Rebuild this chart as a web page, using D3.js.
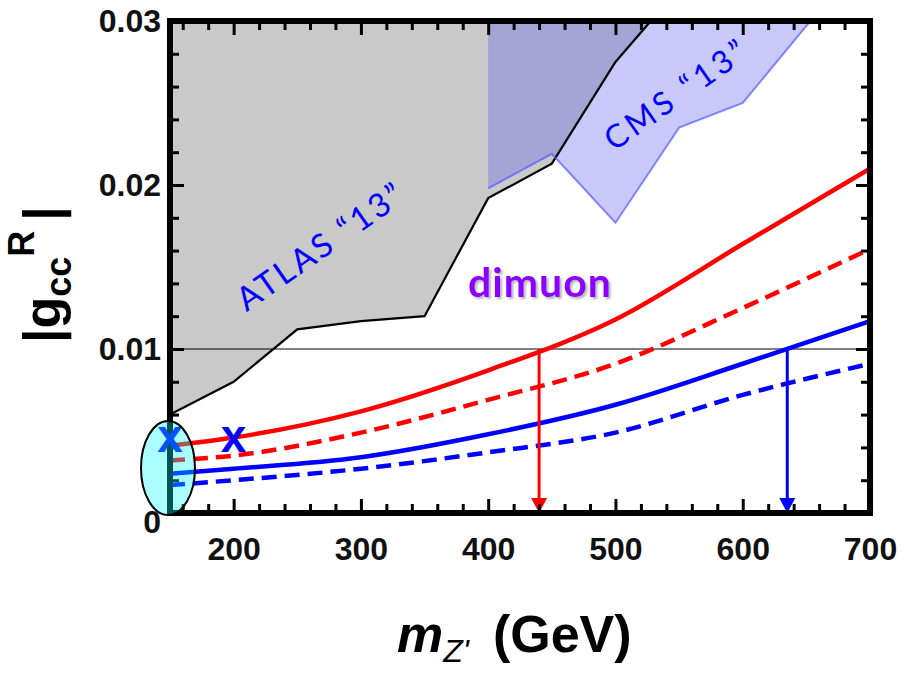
<!DOCTYPE html>
<html>
<head>
<meta charset="utf-8">
<script src="https://cdn.jsdelivr.net/npm/d3@7"></script>
<style>
  body { margin: 0; background: #fff; }
  svg { display: block; }
</style>
</head>
<body>
<svg id="chart" width="912" height="673"></svg>
<script>
'use strict';

// masses (GeV) where the limit curves were sampled
var mass = [150, 200, 300, 400, 500, 600, 700];
var redSolid   = [0.0041, 0.0046, 0.0062, 0.0087, 0.0118, 0.0164, 0.0210];
var redDashed  = [0.0032, 0.0035, 0.0049, 0.0069, 0.0091, 0.0125, 0.0161];
var blueSolid  = [0.0024, 0.0027, 0.0034, 0.0048, 0.0066, 0.0091, 0.0117];
var blueDashed = [0.0017, 0.0020, 0.0027, 0.0037, 0.0049, 0.0072, 0.0091];

// excluded regions (dimuon searches)
var atlasMass  = [150, 200, 250, 300, 350, 400, 450, 500, 550];
var atlasLimit = [0.0060, 0.0080, 0.0112, 0.0117, 0.0120, 0.0192, 0.0213, 0.0275, 0.0320];
var cmsMass  = [400, 450, 500, 550, 600, 650, 700];
var cmsLimit = [0.0198, 0.0219, 0.0177, 0.0235, 0.0250, 0.0297, 0.0344];

var refCoupling = 0.01;
var arrowMass = [440, 635];
var arrowColor = ["#ff0000", "#0000ff"];
var crossMass = [150, 200];
var crossG = [0.0047, 0.0047];
var ellipseCenter = [150, 0.00274];

var xTicks = [200, 300, 400, 500, 600, 700];
var yTicks = [0, 0.01, 0.02, 0.03];
var yTickLabels = ["0", "0.01", "0.02", "0.03"];

var svg = d3.select("#chart");
var pLeft = 170, pRight = 870, pTop = 21, pBottom = 513;

var x = d3.scaleLinear().domain([150, 700]).range([pLeft, pRight]);
var y = d3.scaleLinear().domain([0, 0.03]).range([pBottom, pTop]);

var defs = svg.append("defs");
defs.append("clipPath").attr("id", "plotClip")
	.append("rect")
	.attr("x", pLeft).attr("y", pTop)
	.attr("width", pRight - pLeft).attr("height", pBottom - pTop);

var shadow = defs.append("filter").attr("id", "shadow")
	.attr("x", "-10%").attr("y", "-10%").attr("width", "130%").attr("height", "140%");
shadow.append("feDropShadow")
	.attr("dx", 2).attr("dy", 2).attr("stdDeviation", 1.2)
	.attr("flood-color", "#777").attr("flood-opacity", 0.55);

var plot = svg.append("g").attr("clip-path", "url(#plotClip)");

function zip(xs, ys) {
	return xs.map(function(m, i) { return [m, ys[i]]; });
}

var areaTop = d3.area()
	.x(function(d) { return x(d[0]); })
	.y0(y(0.03) - 10)
	.y1(function(d) { return y(d[1]); });

var line = d3.line()
	.x(function(d) { return x(d[0]); })
	.y(function(d) { return y(d[1]); });

var curve = d3.line()
	.x(function(d) { return x(d[0]); })
	.y(function(d) { return y(d[1]); })
	.curve(d3.curveMonotoneX);

// ATLAS region
plot.append("path")
	.attr("d", areaTop(zip(atlasMass, atlasLimit)))
	.attr("fill", "#c9c9c9");

// CMS region
plot.append("path")
	.attr("d", areaTop(zip(cmsMass, cmsLimit)))
	.attr("fill", "rgb(88,88,236)")
	.attr("fill-opacity", 0.33);

plot.append("path")
	.attr("d", line(zip(atlasMass, atlasLimit)))
	.attr("fill", "none")
	.attr("stroke", "#000")
	.attr("stroke-width", 2.2);

plot.append("path")
	.attr("d", line(zip(cmsMass, cmsLimit)))
	.attr("fill", "none")
	.attr("stroke", "rgb(90,90,255)")
	.attr("stroke-opacity", 0.7)
	.attr("stroke-width", 2);

// reference coupling
plot.append("line")
	.attr("x1", x(150)).attr("x2", x(700))
	.attr("y1", y(refCoupling)).attr("y2", y(refCoupling))
	.attr("stroke", "#000").attr("stroke-width", 1.2);

var curves = [
	{ v: redSolid, c: "#ff0000", dash: null },
	{ v: redDashed, c: "#ff0000", dash: "15,8" },
	{ v: blueSolid, c: "#0000ff", dash: null },
	{ v: blueDashed, c: "#0000ff", dash: "15,8" }
];

plot.selectAll(".limit").data(curves).enter()
	.append("path")
	.attr("class", "limit")
	.attr("d", function(d) { return curve(zip(mass, d.v)); })
	.attr("fill", "none")
	.attr("stroke", function(d) { return d.c; })
	.attr("stroke-width", 4.5)
	.attr("stroke-dasharray", function(d) { return d.dash; });

// arrows down from the crossing points
arrowMass.forEach(function(m, i) {
	var ax = x(m);
	plot.append("line")
		.attr("x1", ax).attr("x2", ax)
		.attr("y1", y(refCoupling)).attr("y2", y(0) - 12)
		.attr("stroke", arrowColor[i]).attr("stroke-width", 3);
	plot.append("path")
		.attr("d", "M" + (ax - 8) + "," + (y(0) - 15) + "L" + (ax + 8) + "," + (y(0) - 15) + "L" + ax + "," + y(0) + "Z")
		.attr("fill", arrowColor[i]);
});

// labels inside the plot
var comic = "'Comic Sans MS', Lato, 'Noto Sans', sans-serif";

svg.append("text")
	.attr("transform", "translate(320,245) rotate(-35)")
	.attr("text-anchor", "middle")
	.attr("dominant-baseline", "central")
	.attr("font-family", comic)
	.attr("font-size", 33)
	.attr("letter-spacing", 3)
	.attr("fill", "#0000ff")
	.text("ATLAS \u201C13\u201D");

svg.append("text")
	.attr("transform", "translate(676,93) rotate(-35)")
	.attr("text-anchor", "middle")
	.attr("dominant-baseline", "central")
	.attr("font-family", comic)
	.attr("font-size", 32)
	.attr("letter-spacing", 4)
	.attr("fill", "#0000ff")
	.text("CMS \u201C13\u201D");

svg.append("text")
	.attr("x", 468).attr("y", 297)
	.attr("font-family", comic)
	.attr("font-size", 41)
	.attr("font-weight", "bold")
	.attr("letter-spacing", 1)
	.attr("fill", "#8c00ff")
	.attr("filter", "url(#shadow)")
	.text("dimuon");

// frame
svg.append("rect")
	.attr("x", pLeft).attr("y", pTop)
	.attr("width", pRight - pLeft).attr("height", pBottom - pTop)
	.attr("fill", "none")
	.attr("stroke", "#000")
	.attr("stroke-width", 6);

var xMinor = d3.range(160, 701, 20).filter(function(v) { return v % 100 !== 0; });
var yMinor = d3.range(0.002, 0.0300, 0.002).filter(function(v) { return Math.abs(v * 100 - Math.round(v * 100)) > 1e-6; });

function tickAxis(axisFn, scale, values, size, transform) {
	var g = svg.append("g")
		.attr("transform", transform)
		.call(axisFn(scale).tickValues(values).tickSize(size).tickFormat(""));
	g.select(".domain").remove();
	g.selectAll(".tick line").attr("stroke", "#000").attr("stroke-width", 3);
	return g;
}

tickAxis(d3.axisBottom, x, xTicks, -14, "translate(0," + pBottom + ")");
tickAxis(d3.axisBottom, x, xMinor, -9, "translate(0," + pBottom + ")");
tickAxis(d3.axisTop, x, xTicks, -14, "translate(0," + pTop + ")");
tickAxis(d3.axisTop, x, xMinor, -9, "translate(0," + pTop + ")");
tickAxis(d3.axisLeft, y, yTicks, -14, "translate(" + pLeft + ",0)");
tickAxis(d3.axisLeft, y, yMinor, -9, "translate(" + pLeft + ",0)");
tickAxis(d3.axisRight, y, yTicks, -14, "translate(" + pRight + ",0)");
tickAxis(d3.axisRight, y, yMinor, -9, "translate(" + pRight + ",0)");

// tick labels
var labelFont = "'Liberation Sans', Arial, sans-serif";
var xLab = svg.append("g")
	.attr("transform", "translate(0," + pBottom + ")")
	.call(d3.axisBottom(x).tickValues(xTicks).tickSize(0).tickPadding(24));
xLab.select(".domain").remove();
xLab.selectAll("text")
	.attr("font-family", labelFont).attr("font-size", 32).attr("font-weight", "bold")
	.attr("fill", "#111");

var yLab = svg.append("g")
	.attr("transform", "translate(" + pLeft + ",0)")
	.call(d3.axisLeft(y).tickValues(yTicks).tickSize(0).tickPadding(9)
		.tickFormat(function(d, i) { return yTickLabels[i]; }));
yLab.select(".domain").remove();
yLab.selectAll("text")
	.attr("font-family", labelFont).attr("font-size", 32).attr("font-weight", "bold")
	.attr("fill", "#111");
yLab.selectAll(".tick").filter(function(d) { return d === 0; })
	.select("text").attr("dy", "0.6em");

// the two benchmark crosses
svg.selectAll(".cross").data(crossMass).enter()
	.append("text")
	.attr("class", "cross")
	.attr("x", function(d) { return x(d); })
	.attr("y", function(d, i) { return y(crossG[i]); })
	.attr("text-anchor", "middle")
	.attr("dominant-baseline", "central")
	.attr("font-family", labelFont)
	.attr("font-weight", "bold")
	.attr("font-size", 46)
	.attr("fill", "#0000ff")
	.text("x");

// highlighted low-mass point
svg.append("ellipse")
	.attr("cx", x(ellipseCenter[0]) - 2)
	.attr("cy", y(ellipseCenter[1]))
	.attr("rx", 27).attr("ry", 47)
	.attr("fill", "#00ffff")
	.attr("fill-opacity", 0.33)
	.attr("stroke", "#000")
	.attr("stroke-width", 2);

// axis titles
var xt = svg.append("text")
	.attr("x", 397).attr("y", 652)
	.attr("font-family", labelFont)
	.attr("font-weight", "bold")
	.attr("font-size", 52)
	.attr("fill", "#000");
xt.append("tspan").attr("font-style", "italic").text("m");
xt.append("tspan").attr("font-style", "italic").attr("font-weight", "normal").attr("font-size", 32).attr("dy", 10).text("Z'");
xt.append("tspan").attr("dy", -10).attr("dx", 24).text("(GeV)");

var yt = svg.append("text")
	.attr("transform", "translate(60,343) rotate(-90)")
	.attr("font-family", labelFont)
	.attr("font-weight", "bold")
	.attr("font-size", 52)
	.attr("fill", "#000");
yt.append("tspan").text("|g");
yt.append("tspan").attr("font-size", 36).attr("dy", 11).text("cc");
yt.append("tspan").attr("font-size", 36).attr("dy", -37).text("R");
yt.append("tspan").attr("dy", 26).attr("dx", 10).text("|");
</script>
</body>
</html>
